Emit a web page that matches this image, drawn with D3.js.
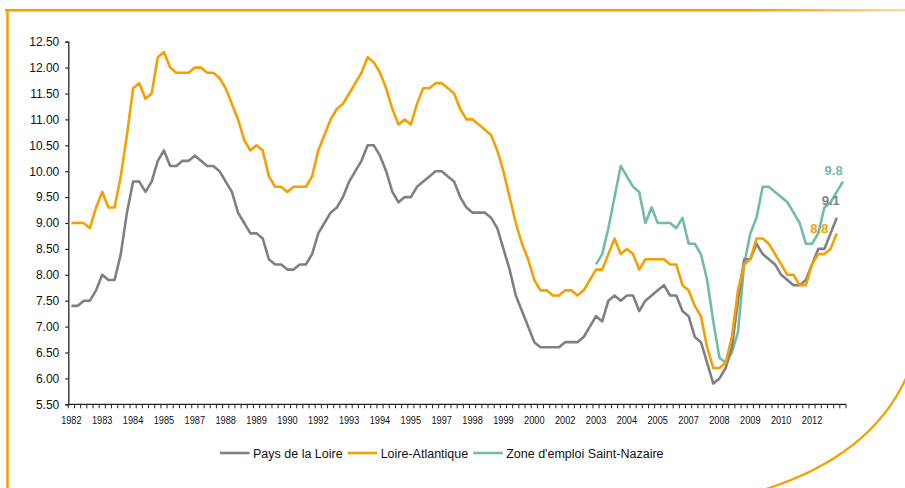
<!DOCTYPE html>
<html><head><meta charset="utf-8">
<script src="https://cdn.jsdelivr.net/npm/d3@7"></script>
<style>
html,body{margin:0;padding:0;background:#fff;}
svg{display:block;}
text{font-family:"Liberation Sans",Arial,sans-serif;}
</style></head>
<body>
<svg id="chart" width="905" height="488"></svg>
<script>
// Quarterly categories 1982 T1 .. 2013 T2 (labels shown every 5th category)
const years = d3.range(1982, 2014);
const quarters = ["T1","T2","T3","T4"];
const categories = [];
years.forEach(y => quarters.forEach(q => categories.push(y + " " + q)));
categories.length = 126;
const tickLabels = ["1982","1983","1984","1985","1987","1988","1989","1990","1992","1993","1994","1995","1997","1998","1999","2000","2002","2003","2004","2005","2007","2008","2009","2010","2012"];
const yTicks = [5.5,6,6.5,7,7.5,8,8.5,9,9.5,10,10.5,11,11.5,12,12.5];

const paysDeLaLoire = [
 7.4,7.4,7.5,7.5,7.7,8.0,7.9,7.9,8.4,9.2,
 9.8,9.8,9.6,9.8,10.2,10.4,10.1,10.1,10.2,10.2,
 10.3,10.2,10.1,10.1,10.0,9.8,9.6,9.2,9.0,8.8,
 8.8,8.7,8.3,8.2,8.2,8.1,8.1,8.2,8.2,8.4,
 8.8,9.0,9.2,9.3,9.5,9.8,10.0,10.2,10.5,10.5,
 10.3,10.0,9.6,9.4,9.5,9.5,9.7,9.8,9.9,10.0,
 10.0,9.9,9.8,9.5,9.3,9.2,9.2,9.2,9.1,8.9,
 8.5,8.1,7.6,7.3,7.0,6.7,6.6,6.6,6.6,6.6,
 6.7,6.7,6.7,6.8,7.0,7.2,7.1,7.5,7.6,7.5,
 7.6,7.6,7.3,7.5,7.6,7.7,7.8,7.6,7.6,7.3,
 7.2,6.8,6.7,6.3,5.9,6.0,6.2,6.6,7.5,8.3,
 8.3,8.6,8.4,8.3,8.2,8.0,7.9,7.8,7.8,7.9,
 8.2,8.5,8.5,8.8,9.1
];
const loireAtlantique = [
 9.0,9.0,9.0,8.9,9.3,9.6,9.3,9.3,9.9,10.7,
 11.6,11.7,11.4,11.5,12.2,12.3,12.0,11.9,11.9,11.9,
 12.0,12.0,11.9,11.9,11.8,11.6,11.3,11.0,10.6,10.4,
 10.5,10.4,9.9,9.7,9.7,9.6,9.7,9.7,9.7,9.9,
 10.4,10.7,11.0,11.2,11.3,11.5,11.7,11.9,12.2,12.1,
 11.9,11.6,11.2,10.9,11.0,10.9,11.3,11.6,11.6,11.7,
 11.7,11.6,11.5,11.2,11.0,11.0,10.9,10.8,10.7,10.4,
 10.0,9.5,9.0,8.6,8.3,7.9,7.7,7.7,7.6,7.6,
 7.7,7.7,7.6,7.7,7.9,8.1,8.1,8.4,8.7,8.4,
 8.5,8.4,8.1,8.3,8.3,8.3,8.3,8.2,8.2,7.8,
 7.7,7.4,7.2,6.6,6.2,6.2,6.3,6.8,7.7,8.2,
 8.3,8.7,8.7,8.6,8.4,8.2,8.0,8.0,7.8,7.8,
 8.2,8.4,8.4,8.5,8.8
];
// Zone d'emploi Saint-Nazaire starts at category index 85 (2003 T2)
const saintNazaireStart = 85;
const saintNazaire = [
 8.2,8.4,8.9,9.5,10.1,
 9.9,9.7,9.6,9.0,9.3,9.0,9.0,9.0,8.9,9.1,
 8.6,8.6,8.4,7.9,7.1,6.4,6.3,6.5,6.9,8.2,
 8.8,9.1,9.7,9.7,9.6,9.5,9.4,9.2,9.0,8.6,
 8.6,8.8,9.3,9.4,9.6,9.8
];
const seriesNames = ["Pays de la Loire","Loire-Atlantique","Zone d'emploi Saint-Nazaire"];
const seriesColors = ["#808080","#F5A000","#72BBA8"];
const endLabels = ["9.1","8.8","9.8"];

const svg = d3.select("#chart");

// decorative frame
const defs = svg.append("defs");
const grad = defs.append("linearGradient").attr("id","topGrad").attr("x1","0").attr("x2","1").attr("y1","0").attr("y2","0");
grad.append("stop").attr("offset","0").attr("stop-color","#F5A000");
grad.append("stop").attr("offset","0.82").attr("stop-color","#F5A000");
grad.append("stop").attr("offset","1").attr("stop-color","#FBDDA8");
svg.append("rect").attr("x",5).attr("y",9).attr("width",905).attr("height",2.5).attr("fill","url(#topGrad)");
svg.append("line").attr("x1",7.5).attr("x2",7.5).attr("y1",9).attr("y2",488).attr("stroke","#F5A000").attr("stroke-width",2.5);
svg.append("path").attr("d","M766,489 Q872,455 907,376").attr("fill","none").attr("stroke","#F5A000").attr("stroke-width",2.2);

const x = d3.scaleBand().domain(categories).range([68.3, 846]).padding(0);
const y = d3.scaleLinear().domain([5.5, 12.5]).range([404.3, 41.7]);
const cx = i => x(categories[i]) + x.bandwidth()/2;

// Y axis
const yAxis = d3.axisLeft(y).tickValues(yTicks).tickFormat(d3.format(".2f")).tickSize(3).tickPadding(6);
const yg = svg.append("g").attr("transform","translate(68.3,0)").call(yAxis);
yg.select(".domain").attr("stroke","#222").attr("stroke-width",1.3);
yg.selectAll(".tick line").attr("stroke","#222").attr("stroke-width",1.2);
yg.selectAll("text").attr("font-size","12px").attr("fill","#111").attr("font-family","'Liberation Sans',Arial,sans-serif");

// X axis (ticks between categories)
const xg = svg.append("g").attr("transform","translate(0,404.3)");
xg.append("line").attr("x1",68.3).attr("x2",846).attr("stroke","#222").attr("stroke-width",1.3);
const boundaries = d3.range(categories.length + 1).map(i => i === categories.length ? x.range()[1] : x(categories[i]));
xg.selectAll("line.tk").data(boundaries).join("line").attr("class","tk")
  .attr("x1",d=>d).attr("x2",d=>d).attr("y1",0).attr("y2",4).attr("stroke","#222").attr("stroke-width",1);
xg.selectAll("text").data(tickLabels).join("text")
  .attr("x",(d,k)=>cx(k*5)).attr("y",20).attr("text-anchor","middle")
  .attr("font-size","11px").attr("fill","#111")
  .attr("textLength",20.5).attr("lengthAdjust","spacingAndGlyphs")
  .text(d=>d);

// lines
const allSeries = [
  categories.map((c,i)=> i < paysDeLaLoire.length ? paysDeLaLoire[i] : null),
  categories.map((c,i)=> i < loireAtlantique.length ? loireAtlantique[i] : null),
  categories.map((c,i)=> (i>=saintNazaireStart && i-saintNazaireStart < saintNazaire.length) ? saintNazaire[i-saintNazaireStart] : null)
];
const line = d3.line().defined(d=>d.v!=null).x(d=>cx(d.i)).y(d=>y(d.v));
const drawOrder = [2,0,1];
drawOrder.forEach(s=>{
  const pts = allSeries[s].map((v,i)=>({i,v}));
  svg.append("path").datum(pts).attr("d",line).attr("fill","none")
    .attr("stroke",seriesColors[s]).attr("stroke-width",2.6).attr("stroke-linejoin","round");
});

// end labels
const labelOffsets = [[-6,-12.8],[-17.5,0],[-9.3,-6.6]];
[0,1,2].forEach(s=>{
  const vals = allSeries[s];
  let last = vals.length-1; while (vals[last]==null) last--;
  svg.append("text").attr("x",cx(last)+labelOffsets[s][0]).attr("y",y(vals[last])+labelOffsets[s][1])
    .attr("text-anchor","middle").attr("font-size","13px").attr("font-weight","bold")
    .attr("fill",seriesColors[s]).text(endLabels[s]);
});

// legend
const lg = svg.append("g").attr("transform","translate(220,453)");
let lx = 0;
seriesNames.forEach((n,s)=>{
  lg.append("line").attr("x1",lx).attr("x2",lx+29.5).attr("y1",0).attr("y2",0).attr("stroke",seriesColors[s]).attr("stroke-width",2.6);
  const t = lg.append("text").attr("x",lx+33).attr("y",4.5).attr("font-size","12.5px").attr("fill","#111").text(n);
  lx += 33 + t.node().getComputedTextLength() + 5;
});
</script>
</body></html>
